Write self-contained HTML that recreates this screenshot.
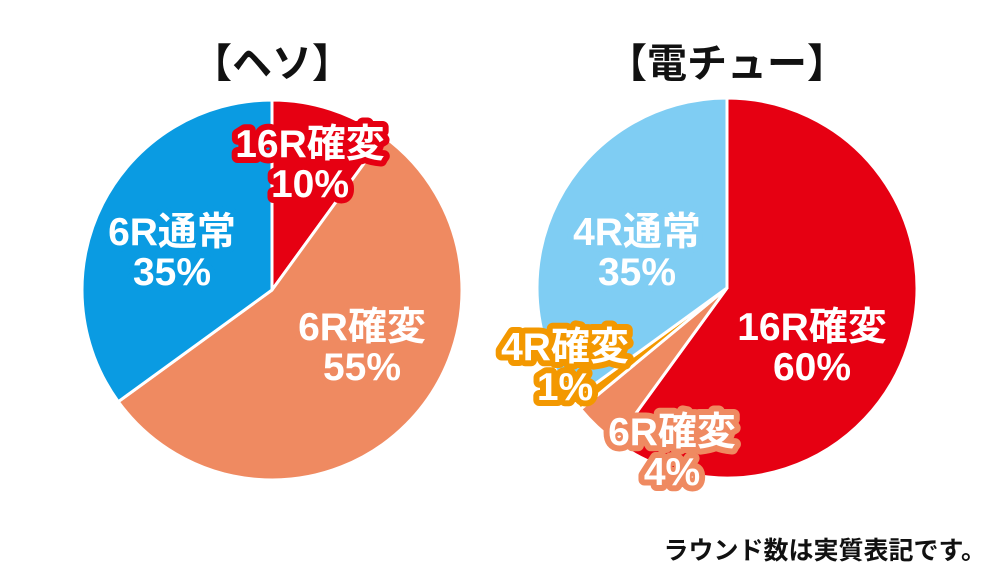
<!DOCTYPE html>
<html><head><meta charset="utf-8"><style>
body{margin:0;background:#fff}
svg{display:block}
text{font-family:"Liberation Sans","Noto Sans CJK JP",sans-serif;font-weight:bold}
.l{font-size:39px;fill:#fff;stroke-width:12px;stroke-linejoin:round;paint-order:stroke;text-anchor:middle}
</style></head><body>
<svg width="1000" height="577" viewBox="0 0 1000 577">
<text x="272" y="77" font-size="40" text-anchor="middle" fill="#111">【ヘソ】</text>
<text x="727" y="77" font-size="40" text-anchor="middle" fill="#111">【電チュー】</text>
<g stroke="#fff" stroke-width="3" stroke-linejoin="round">
<path d="M272,290 L272,100 A190,190 0 0 1 383.7,136.3 Z" fill="#e60012"/>
<path d="M272,290 L383.7,136.3 A190,190 0 1 1 118.3,401.7 Z" fill="#ef8a61"/>
<path d="M272,290 L118.3,401.7 A190,190 0 0 1 272,100 Z" fill="#0a9be2"/>
<path d="M727,288 L727,98 A190,190 0 1 1 615.3,441.7 Z" fill="#e60012"/>
<path d="M727,288 L615.3,441.7 A190,190 0 0 1 580.6,409.1 Z" fill="#ef8a61"/>
<path d="M727,288 L580.6,409.1 A190,190 0 0 1 573.3,399.7 Z" fill="#f39800"/>
<path d="M727,288 L573.3,399.7 A190,190 0 0 1 727,98 Z" fill="#7fcdf3"/>
</g>
<g class="l" stroke="#e60012"><text x="310" y="157">16R確変</text><text x="310" y="197">10%</text></g>
<g class="l" stroke="#0a9be2"><text x="172" y="245">6R通常</text><text x="172" y="285">35%</text></g>
<g class="l" stroke="#ef8a61"><text x="362" y="340">6R確変</text><text x="362" y="380">55%</text></g>
<g class="l" stroke="#7fcdf3"><text x="637" y="245">4R通常</text><text x="637" y="285">35%</text></g>
<g class="l" stroke="#e60012"><text x="812" y="340">16R確変</text><text x="812" y="380">60%</text></g>
<g class="l" stroke="#f39800"><text x="565" y="360">4R確変</text><text x="565" y="400">1%</text></g>
<g class="l" stroke="#ef8a61"><text x="672" y="445">6R確変</text><text x="672" y="485">4%</text></g>
<text x="986" y="559" font-size="25" text-anchor="end" fill="#111">ラウンド数は実質表記です。</text>
</svg>
</body></html>
